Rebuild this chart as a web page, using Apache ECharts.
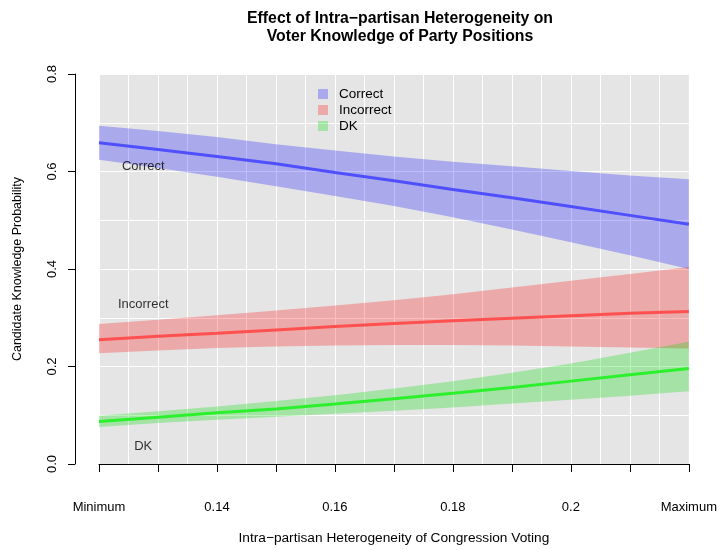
<!DOCTYPE html>
<html><head><meta charset="utf-8">
<script src="https://cdn.jsdelivr.net/npm/echarts@6/dist/echarts.min.js"></script>
<style>html,body{margin:0;padding:0;background:#fff}#c{width:720px;height:550px}</style>
</head><body><div id="c"></div>
<script>
// ---- data ----
var xValues = [0.12, 0.13, 0.14, 0.15, 0.16, 0.17, 0.18, 0.19, 0.20, 0.21, 0.22];
var correctFit   = [0.659, 0.645, 0.631, 0.616, 0.598, 0.581, 0.563, 0.546, 0.528, 0.510, 0.492];
var correctUpper = [0.694, 0.683, 0.671, 0.656, 0.643, 0.631, 0.620, 0.611, 0.601, 0.592, 0.584];
var correctLower = [0.624, 0.607, 0.589, 0.570, 0.550, 0.529, 0.506, 0.481, 0.455, 0.428, 0.400];
var incorrectFit   = [0.255, 0.262, 0.268, 0.275, 0.282, 0.288, 0.294, 0.299, 0.304, 0.309, 0.313];
var incorrectUpper = [0.287, 0.296, 0.305, 0.315, 0.325, 0.336, 0.348, 0.362, 0.376, 0.390, 0.404];
var incorrectLower = [0.227, 0.233, 0.238, 0.241, 0.243, 0.244, 0.244, 0.243, 0.241, 0.239, 0.237];
var dkFit   = [0.087, 0.096, 0.105, 0.113, 0.123, 0.134, 0.145, 0.157, 0.170, 0.183, 0.196];
var dkUpper = [0.099, 0.108, 0.118, 0.129, 0.141, 0.155, 0.170, 0.187, 0.206, 0.228, 0.251];
var dkLower = [0.076, 0.084, 0.091, 0.097, 0.103, 0.109, 0.116, 0.124, 0.132, 0.140, 0.149];
var seriesNames = ['Correct', 'Incorrect', 'DK'];
var xTickValues = [0.12, 0.14, 0.16, 0.18, 0.20, 0.22];
var xTickLabels = ['Minimum', '0.14', '0.16', '0.18', '0.2', 'Maximum'];
var annotX = [0.1275, 0.1275, 0.1275];
var annotY = [0.610, 0.327, 0.037];

// ---- styles ----
var bandColors = ['rgba(0,0,255,0.26)', 'rgba(255,0,0,0.26)', 'rgba(0,220,0,0.28)'];
var lineColors = ['#4f4fff', '#ff5050', '#2cf02c'];
var FONT = '"Liberation Sans", Arial, Helvetica, sans-serif';

var fits = [correctFit, incorrectFit, dkFit];
var uppers = [correctUpper, incorrectUpper, dkUpper];
var lowers = [correctLower, incorrectLower, dkLower];

function bandSeries(k) {
  return {
    type: 'custom', name: seriesNames[k], xAxisIndex: 0, yAxisIndex: 0,
    itemStyle: { color: bandColors[k] },
    data: [[xValues[0], lowers[k][0]]],
    z: 2,
    renderItem: function (params, api) {
      var pts = [];
      for (var i = 0; i < xValues.length; i++) pts.push(api.coord([xValues[i], uppers[k][i]]));
      for (var j = xValues.length - 1; j >= 0; j--) pts.push(api.coord([xValues[j], lowers[k][j]]));
      return { type: 'polygon', shape: { points: pts }, style: { fill: bandColors[k], stroke: null } };
    }
  };
}
function lineSeries(k) {
  return {
    type: 'line', name: seriesNames[k] + ' fit', xAxisIndex: 0, yAxisIndex: 0,
    data: xValues.map(function (x, i) { return [x, fits[k][i]]; }),
    showSymbol: false, symbol: 'none', silent: true, z: 3,
    lineStyle: { color: lineColors[k], width: 3 }
  };
}

var series = [bandSeries(0), bandSeries(1), bandSeries(2), lineSeries(0), lineSeries(1), lineSeries(2)];
series.push({
  type: 'scatter', name: 'labels', xAxisIndex: 0, yAxisIndex: 0, symbolSize: 0, z: 4, silent: true,
  data: seriesNames.map(function (n, i) { return { name: n, value: [annotX[i], annotY[i]] }; }),
  label: { show: true, position: 'inside', formatter: '{b}', color: '#000', fontSize: 13, fontFamily: FONT }
});

function xFmt(v) {
  var r = Math.round(v * 100);
  for (var i = 0; i < xTickValues.length; i++) if (Math.round(xTickValues[i] * 100) === r) return xTickLabels[i];
  return '';
}

var option = {
  animation: false,
  backgroundColor: '#ffffff',
  title: {
    text: 'Effect of Intra\u2212partisan Heterogeneity on\nVoter Knowledge of Party Positions',
    left: 395, top: 5, textAlign: 'center',
    textStyle: { fontSize: 15.8, fontWeight: 'bold', fontFamily: FONT, color: '#000', lineHeight: 18 }
  },
  legend: {
    orient: 'vertical', left: 313, top: 82, itemWidth: 10, itemHeight: 10, itemGap: 2,
    data: seriesNames.map(function (n, i) { return { name: n, icon: 'rect', itemStyle: { color: bandColors[i] } }; }),
    textStyle: { fontSize: 13.5, fontFamily: FONT, color: '#000', padding: [0, 0, 0, 6] },
    selectedMode: false
  },
  grid: { left: 99, right: 30, top: 74, bottom: 84, show: true, backgroundColor: '#e5e5e5', borderWidth: 0 },
  xAxis: [
    { type: 'value', min: 0.12, max: 0.22, interval: 0.005,
      axisLine: { show: false }, axisTick: { show: false }, axisLabel: { show: false },
      splitLine: { show: true, lineStyle: { color: '#ffffff', width: 1 } } },
    { type: 'value', min: 0.12, max: 0.22, interval: 0.01, position: 'bottom', offset: 16,
      name: 'Intra\u2212partisan Heterogeneity of Congression Voting', nameLocation: 'middle', nameGap: 51,
      nameTextStyle: { fontSize: 13.7, fontFamily: FONT, color: '#000' },
      axisLine: { show: true, lineStyle: { color: '#000', width: 1 } },
      axisTick: { show: true, length: 8, lineStyle: { color: '#000' } },
      axisLabel: { show: true, margin: 21, fontSize: 13, fontFamily: FONT, color: '#000', formatter: xFmt, showMinLabel: true, showMaxLabel: true },
      splitLine: { show: false } }
  ],
  yAxis: [
    { type: 'value', min: 0, max: 0.8, interval: 0.1,
      axisLine: { show: false }, axisTick: { show: false }, axisLabel: { show: false },
      splitLine: { show: true, lineStyle: { color: '#ffffff', width: 1 } } },
    { type: 'value', min: 0, max: 0.8, interval: 0.2, position: 'left', offset: 24,
      name: 'Candidate Knowledge Probability', nameLocation: 'middle', nameGap: 51, nameRotate: 90,
      nameTextStyle: { fontSize: 12.5, fontFamily: FONT, color: '#000' },
      axisLine: { show: true, lineStyle: { color: '#000', width: 1 } },
      axisTick: { show: true, length: 7, lineStyle: { color: '#000' } },
      axisLabel: { show: true, rotate: 90, margin: 16, fontSize: 13, fontFamily: FONT, color: '#000',
        formatter: function (v) { return v.toFixed(1); } },
      splitLine: { show: false } }
  ],
  series: series
};
var chart = echarts.init(document.getElementById('c'), null, { renderer: 'canvas' });
chart.setOption(option);
</script></body></html>
